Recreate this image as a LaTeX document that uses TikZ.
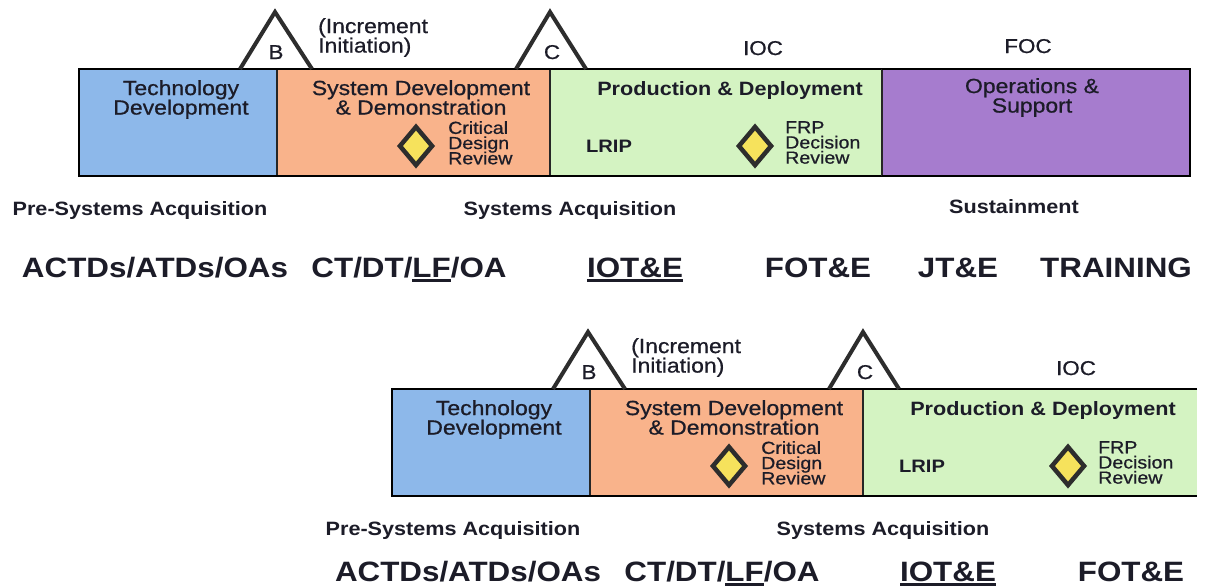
\documentclass[tikz,border=0pt]{standalone}
\usepackage{fontspec}
\setmainfont{Liberation Sans}[FakeStretch=1.12]
\newfontfamily\mediumface{Liberation Sans}[FakeStretch=1.12,FakeBold=0.7]
\usetikzlibrary{shapes.geometric}

\definecolor{tdblue}{RGB}{141,184,234}
\definecolor{sddorange}{RGB}{249,179,139}
\definecolor{pdgreen}{RGB}{212,243,194}
\definecolor{ospurple}{RGB}{166,124,206}
\definecolor{revyellow}{RGB}{246,226,92}
\definecolor{markgray}{RGB}{45,45,45}
\definecolor{ink}{RGB}{28,28,40}

\lineskiplimit=-30pt

\newsavebox{\ulbox}
\newcommand{\undl}[1]{\sbox\ulbox{#1}\rlap{\rule[-4.5pt]{\wd\ulbox}{2.4pt}}\usebox\ulbox}

% phases shared by both timelines, #1 = baseline of the test row
\newcommand{\acqphases}[1]{%
  % phase bar
  \fill[tdblue] (79,69) rectangle (277,176);
  \fill[sddorange] (277,69) rectangle (550,176);
  \fill[pdgreen] (550,69) rectangle (884,176);
  \draw[split line] (277,69) -- (277,176) (550,69) -- (550,176);
  \draw[bar line] (884,69) -- (79,69) -- (79,176) -- (884,176);
  % milestones
  \draw[milestone] (240,69) -- (275,12) -- (312,69);
  \draw[milestone] (516,69) -- (550,12) -- (586,69);
  \node[plain label] (msb) at (276,59) {B};
  \node[plain label] (msc) at (552,59) {C};
  \node[phase label, align=left, anchor=north west] (incr) at (318,18) {(Increment\\Initiation)};
  \node[plain label] (ioc) at (763,55) {IOC};
  % phase names
  \node[phase label] (tdname) at (181,80) {Technology\\Development};
  \node[phase label] (sddname) at (421,80) {System Development\\\& Demonstration};
  \node[period label] (pdname) at (730,95) {Production \& Deployment};
  \node[review] (cdr) at (416,146) {};
  \node[note label] (cdrname) at (448,121) {Critical\\Design\\Review};
  \node[period label, font=\fontsize{18}{20}\selectfont\bfseries] (lrip) at (609,152) {LRIP};
  \node[review] (frp) at (755,146) {};
  \node[note label] (frpname) at (785,121) {FRP\\Decision\\Review};
  % acquisition periods
  \node[period label] (presys) at (140,215) {Pre-Systems Acquisition};
  \node[period label] (sysacq) at (570,215) {Systems Acquisition};
  % test activities
  \node[test label] (actd) at (155,#1) {ACTDs/ATDs/OAs};
  \node[test label] (ctdt) at (409,#1) {CT/DT/\undl{LF}/OA};
  \node[test label] (iote) at (635,#1) {\undl{IOT\&E}};
  \node[test label] (fote) at (818,#1) {FOT\&E};
}

\begin{document}
\begin{tikzpicture}[x=1pt,y=-1pt,
  bar line/.style={draw=black,line width=2.6pt},
  split line/.style={draw=black!85,line width=1.8pt},
  milestone/.style={draw=markgray,line width=4pt,line join=miter},
  review/.style={diamond,draw=markgray,fill=revyellow,line width=4.5pt,
    minimum width=34pt,minimum height=40pt,inner sep=0pt},
  phase label/.style={align=center,anchor=north,inner sep=0pt,text=ink,
    font=\mediumface\fontsize{20.5}{19.5}\selectfont},
  plain label/.style={anchor=base,inner sep=0pt,text=ink,
    font=\mediumface\fontsize{20}{20}\selectfont},
  period label/.style={anchor=base,inner sep=0pt,text=ink,
    font=\fontsize{19.3}{20}\selectfont\bfseries},
  note label/.style={align=left,anchor=north west,inner sep=0pt,text=ink,
    font=\mediumface\fontsize{17.5}{15.2}\selectfont},
  test label/.style={anchor=base,inner sep=0pt,text=ink,
    font=\fontsize{28}{30}\selectfont\bfseries}]

  \path[fill=white,use as bounding box] (0,0) rectangle (1209,587);

  % full timeline
  \begin{scope}[name prefix=upper-]
    \acqphases{277}
    \fill[ospurple] (882,69) rectangle (1190,176);
    \draw[split line] (882,69) -- (882,176);
    \draw[bar line] (882,69) -- (1190,69) -- (1190,176) -- (882,176);
    \node[phase label] (osname) at (1032,78) {Operations \&\\Support};
    \node[plain label] (foc) at (1028,53) {FOC};
    \node[period label] (sustain) at (1014,213) {Sustainment};
    \node[test label] (jte) at (958,277) {JT\&E};
    \node[test label] (training) at (1116,277) {TRAINING};
  \end{scope}

  % timeline cut after IOC
  \begin{scope}[shift={(313,320)},name prefix=lower-]
    \acqphases{261}
  \end{scope}
\end{tikzpicture}
\end{document}
